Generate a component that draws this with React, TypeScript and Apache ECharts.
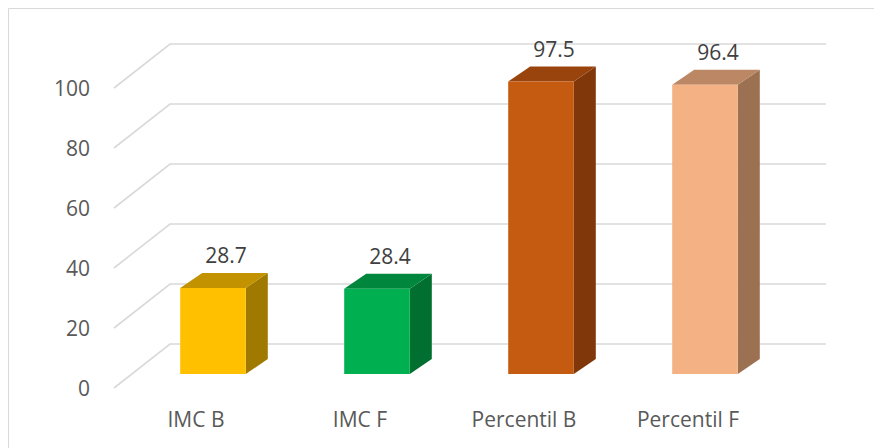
import React, { useEffect, useRef } from "react";
import * as echarts from "echarts";

// Data
const categories = ["IMC B", "IMC F", "Percentil B", "Percentil F"];
const values = [28.7, 28.4, 97.5, 96.4];
const gridValues = [0, 20, 40, 60, 80, 100];

// Face colours of each 3D column: front, top, right side
const frontColors = ["#FFC000", "#00B050", "#C55A11", "#F4B183"];
const topColors = ["#C29200", "#00873D", "#9A440D", "#BC8764"];
const sideColors = ["#A07A00", "#006F2F", "#80380A", "#9C7152"];

// Perspective offsets (pixels)
const WALL_DX = 56; // front edge of the floor -> back wall
const WALL_DY = -44;
const BAR_DX = 17; // front edge of the floor -> column front face
const BAR_DY = -14;
const DEPTH_DX = 22; // column depth
const DEPTH_DY = -15;
const BAR_WIDTH_RATIO = 0.4;

const FONT = "'Open Sans', 'Noto Sans', sans-serif";

export default function App() {
  const ref = useRef<HTMLDivElement>(null);

  useEffect(() => {
    if (!ref.current) return;
    const chart = echarts.init(ref.current, undefined, { renderer: "svg" });

    const option: any = {
      animation: false,
      backgroundColor: "#ffffff",
      grid: { left: 114, top: 88, width: 656, height: 300, containLabel: false },
      xAxis: {
        type: "category",
        data: categories,
        axisLine: { show: false },
        axisTick: { show: false },
        splitLine: { show: false },
        axisLabel: {
          color: "#595959",
          fontSize: 21,
          fontFamily: FONT,
          margin: 20,
        },
      },
      yAxis: {
        type: "value",
        min: 0,
        max: 100,
        interval: 20,
        axisLine: { show: false },
        axisTick: { show: false },
        splitLine: { show: false },
        axisLabel: {
          color: "#595959",
          fontSize: 21,
          fontFamily: FONT,
          margin: 24,
        },
      },
      graphic: [
        {
          type: "rect",
          shape: { x: 8.5, y: 8.5, width: 900, height: 500 },
          style: { fill: "none", stroke: "#D9D9D9", lineWidth: 1 },
          silent: true,
        },
      ],
      series: [
        {
          // gridlines: side wall diagonal + back wall horizontal
          type: "custom",
          z: 1,
          silent: true,
          data: gridValues.map((v) => [0, v]),
          encode: { x: 0, y: 1 },
          renderItem: (params: any, api: any) => {
            const cs = params.coordSys;
            const y = api.coord([0, api.value(1)])[1];
            const x0 = cs.x;
            return {
              type: "polyline",
              shape: {
                points: [
                  [x0, y],
                  [x0 + WALL_DX, y + WALL_DY],
                  [x0 + cs.width + WALL_DX, y + WALL_DY],
                ],
              },
              style: { stroke: "#D9D9D9", lineWidth: 1.6, fill: "none" },
            };
          },
        },
        {
          type: "custom",
          z: 2,
          data: values.map((v, i) => [i, v]),
          encode: { x: 0, y: 1 },
          renderItem: (params: any, api: any) => {
            const i = api.value(0);
            const v = api.value(1);
            const base = api.coord([i, 0]);
            const top = api.coord([i, v]);
            const w = api.size([1, 0])[0] * BAR_WIDTH_RATIO;
            const x0 = base[0] - w / 2 + BAR_DX;
            const x1 = x0 + w;
            const yb = base[1] + BAR_DY;
            const yt = top[1] + BAR_DY;
            const dx = DEPTH_DX;
            const dy = DEPTH_DY;
            return {
              type: "group",
              children: [
                {
                  type: "polygon",
                  shape: { points: [[x1, yb], [x1 + dx, yb + dy], [x1 + dx, yt + dy], [x1, yt]] },
                  style: { fill: sideColors[i] },
                },
                {
                  type: "polygon",
                  shape: { points: [[x0, yt], [x1, yt], [x1 + dx, yt + dy], [x0 + dx, yt + dy]] },
                  style: { fill: topColors[i] },
                },
                {
                  type: "rect",
                  shape: { x: x0, y: yt, width: w, height: yb - yt },
                  style: { fill: frontColors[i] },
                },
                {
                  type: "text",
                  x: (x0 + x1) / 2 + 13,
                  y: yt + dy - 18,
                  style: {
                    text: v.toFixed(1),
                    fill: "#404040",
                    fontSize: 21,
                    fontFamily: FONT,
                    align: "center",
                    verticalAlign: "middle",
                  },
                },
              ],
            };
          },
        },
      ],
    };

    chart.setOption(option);
    return () => chart.dispose();
  }, []);

  return (
    <div
      ref={ref}
      style={{ position: "fixed", left: 0, top: 0, width: 874, height: 448, background: "#fff" }}
    />
  );
}
